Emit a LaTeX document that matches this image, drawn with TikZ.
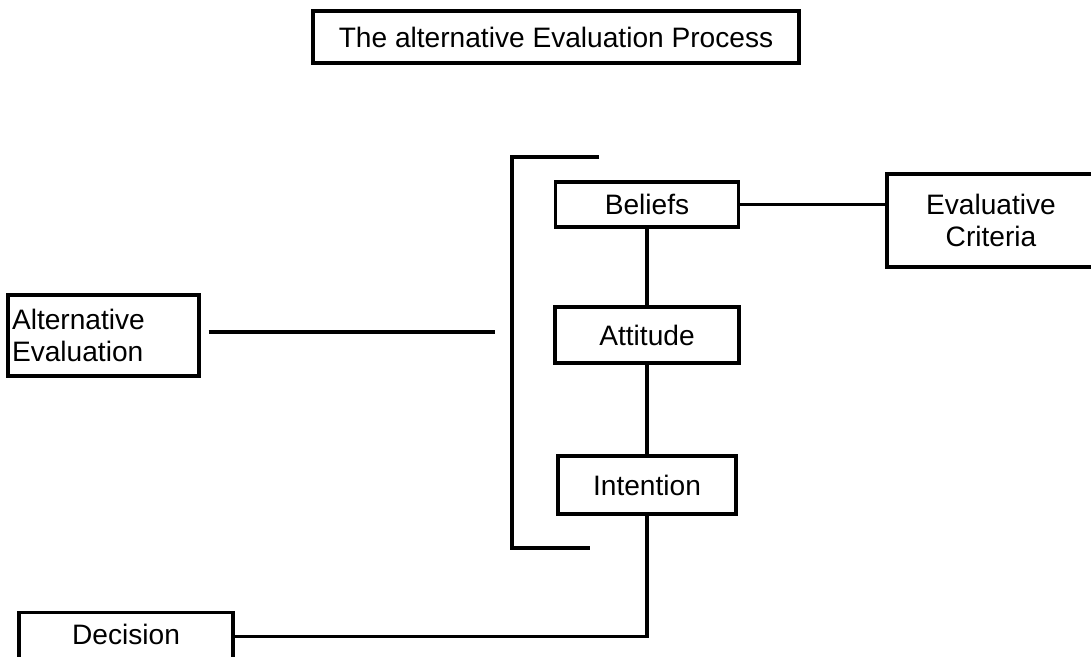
\documentclass[tikz,border=0pt]{standalone}
\usepackage{fontspec}
\setmainfont{Liberation Sans}
\usepackage{tikz}
\usetikzlibrary{calc,positioning}

\begin{document}
\begin{tikzpicture}[font=\fontsize{10}{11.5}\selectfont,
     bx/.style={draw,line width=1.2pt,inner sep=2pt,align=center},
     ln/.style={line width=1.1pt}]
    \useasboundingbox (0,0) rectangle (13.6375,-8.2125);
    \node[bx,minimum width=6.075cm,minimum height=0.65cm] (tit) at (6.95,-0.4625) {The alternative Evaluation Process};
    \node[bx,minimum width=2.2875cm,minimum height=0.5625cm] (bel) at (8.0875,-2.556) {Beliefs};
    \node[bx,minimum width=2.3cm,minimum height=0.7cm] (att) at (8.0875,-4.1875) {Attitude};
    \node[bx,minimum width=2.225cm,minimum height=0.725cm] (int) at (8.0875,-6.0625) {Intention};
    \node[bx,minimum width=2.6cm,minimum height=1.1625cm] (crit) at (12.3875,-2.756) {Evaluative\\ Criteria};
    \node[bx,minimum height=1.0125cm,text width=2.2875cm,align=left,inner xsep=0.05cm] (alt) at (1.294,-4.194) {Alternative\\ Evaluation};
    \node[bx,minimum width=2.675cm,anchor=north,text height=0.25cm,text depth=0.8cm,inner ysep=0.15cm] (dec) at (1.575,-7.6375) {Decision};
    % bracket round the three stages
    \coordinate (brtop) at (7.4875,-1.9625);
    \coordinate (brbot) at (7.375,-6.85);
    \coordinate (brin) at (6.1875,-4.15);
    \draw[ln] (brtop) -- (6.4,-1.9625) -- (6.4,-6.85) -- (brbot);
    \draw[ln,shorten <=0.1cm] (alt.east |- brin) -- (brin);
    \draw[ln] (bel.east) -- (bel.east -| crit.west);
    \draw[ln] (bel.south) -- (att.north);
    \draw[ln] (att.south) -- (int.north);
    \draw[ln] (int.south) |- ([yshift=0.1cm]dec.base east);
  \end{tikzpicture}
\end{document}
